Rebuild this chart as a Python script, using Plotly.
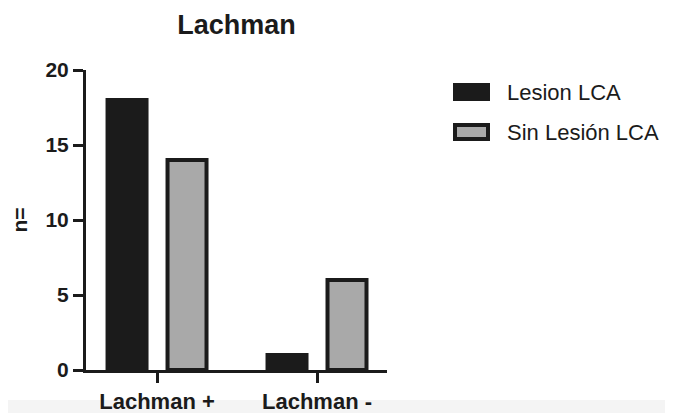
import plotly.graph_objects as go

categories = ["Lachman +", "Lachman -"]
series_names = ["Lesion LCA", "Sin Lesión LCA"]
lesion_values = [18, 1]
sin_lesion_values = [14, 6]
y_ticks = [0, 5, 10, 15, 20]

series_values = [lesion_values, sin_lesion_values]
fill_colors = ["#1b1b1b", "#a9a9a9"]
edge = "#1b1b1b"
FONT = "Liberation Sans, Arial, Helvetica, sans-serif"

OFF = 8  # default page body margin
PW, PH = 673, 413
W, H = PW - OFF, PH - OFF
# plot area in page pixels: x 86..387, y 70..370
L, T = 86 - OFF, 70 - OFF
R = PW - 387
B = PH - 370
pw, ph = W - L - R, H - T - B

fig = go.Figure()
for name, vals, col in zip(series_names, series_values, fill_colors):
    fig.add_trace(go.Bar(
        x=categories, y=vals, name=name,
        marker=dict(color=col, line=dict(color=edge, width=4)),
        showlegend=False,
    ))

def px_x(p):  # page pixel -> paper
    return (p - 86) / pw

def px_y(p):
    return (370 - p) / ph

shapes = [
    dict(type="rect", xref="paper", yref="paper",
         x0=px_x(0), x1=px_x(PW + 10), y0=px_y(PH + 10), y1=px_y(400),
         fillcolor="#f4f4f4", line=dict(width=0), layer="below"),
]
annotations = []
legend_rows = [92, 132]
for name, col, yc in zip(series_names, fill_colors, legend_rows):
    shapes.append(dict(type="rect", xref="paper", yref="paper",
                       x0=px_x(455), x1=px_x(488), y0=px_y(yc + 7), y1=px_y(yc - 7),
                       fillcolor=col, line=dict(color=edge, width=4)))
    annotations.append(dict(xref="paper", yref="paper", x=px_x(505), y=px_y(yc),
                            xanchor="left", yanchor="middle", showarrow=False,
                            text=name, font=dict(family=FONT, size=22, color="#1b1b1b")))

fig.update_layout(
    width=W, height=H,
    margin=dict(l=L, r=R, t=T, b=B, autoexpand=False),
    paper_bgcolor="white", plot_bgcolor="white",
    barmode="group", bargap=0.25, bargroupgap=0.35,
    title=dict(text="<b>Lachman</b>", x=0.5, xref="paper", xanchor="center",
               y=1 - (25 - OFF) / H, yanchor="middle",
               font=dict(family=FONT, size=27, color="#1b1b1b")),
    shapes=shapes, annotations=annotations,
    font=dict(family=FONT, color="#1b1b1b"),
)
fig.update_xaxes(
    range=[-0.444, 1.4375], showline=True, linewidth=3, linecolor=edge,
    ticks="outside", ticklen=10, tickwidth=3, tickcolor=edge,
    tickfont=dict(family=FONT, size=22, color="#1b1b1b"),
    tickprefix="<b>", ticksuffix="</b>", showgrid=False, zeroline=False,
)
fig.update_yaxes(
    range=[0, 20], tickvals=y_ticks, ticktext=[f"<b>{v}</b>" for v in y_ticks],
    showline=True, linewidth=3, linecolor=edge,
    ticks="outside", ticklen=10, tickwidth=3, tickcolor=edge,
    tickfont=dict(family=FONT, size=21, color="#1b1b1b"),
    showgrid=False, zeroline=False,
    title=dict(text="<b>n=</b>", standoff=14,
               font=dict(family=FONT, size=21, color="#1b1b1b")),
)
fig.write_html("out.html")
